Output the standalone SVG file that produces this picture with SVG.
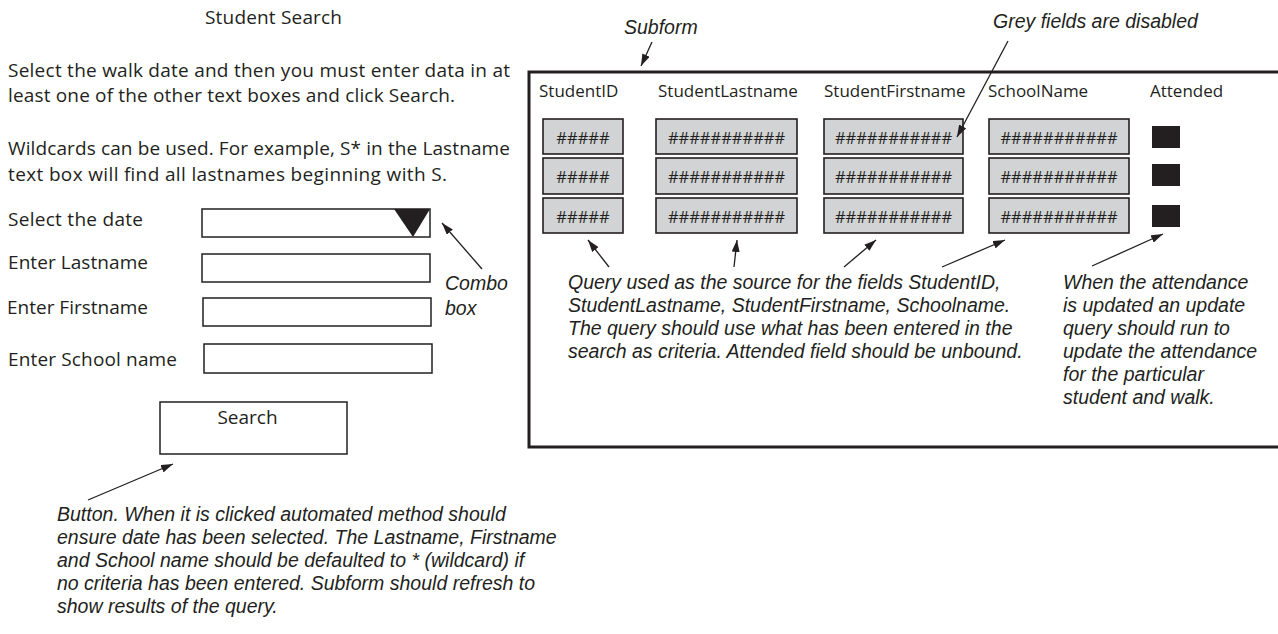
<svg xmlns="http://www.w3.org/2000/svg" width="1278" height="634" viewBox="0 0 1278 634">
<defs>
<style>
text{font-family:"Open Sans","Noto Sans","Liberation Sans",sans-serif;fill:#231f20;}
.b{font-size:19px;}
.it{font-family:"Liberation Sans",Arial,sans-serif;font-size:19.5px;font-style:italic;}
.hd{font-size:17px;}
.hash{font-size:16.5px;text-anchor:middle;}
.inp{fill:#fff;stroke:#231f20;stroke-width:1.5;}
.fld{fill:#d1d3d4;stroke:#231f20;stroke-width:1.6;}
.chk{fill:#231f20;}
.con{stroke:#231f20;stroke-width:1.3;fill:none;marker-end:url(#ah);}
</style>
<marker id="ah" viewBox="0 0 12 8" refX="12" refY="4" markerWidth="12" markerHeight="8" markerUnits="userSpaceOnUse" orient="auto">
<path d="M0,0 L12,4 L0,8 Z" fill="#231f20"/>
</marker>
</defs>
<rect width="1278" height="634" fill="#fff"/>

<g id="title"><text class="b" x="205" y="24" textLength="137">Student Search</text></g>
<g id="instructions">
<text class="b" x="8" y="77" textLength="502">Select the walk date and then you must enter data in at</text>
<text class="b" x="8" y="102" textLength="447">least one of the other text boxes and click Search.</text>
<text class="b" x="8" y="155" textLength="502">Wildcards can be used. For example, S* in the Lastname</text>
<text class="b" x="8" y="181" textLength="439">text box will find all lastnames beginning with S.</text>
</g>

<g id="date">
<text class="b" x="8" y="226" textLength="135">Select the date</text>
<rect class="inp" x="202" y="209" width="228" height="28"/>
<path d="M394,209 L430,209 L413,237 Z" fill="#231f20"/>
</g>
<g id="lastname">
<text class="b" x="8" y="269" textLength="140">Enter Lastname</text>
<rect class="inp" x="202" y="254" width="228" height="28"/>
</g>
<g id="firstname">
<text class="b" x="7" y="314" textLength="141">Enter Firstname</text>
<rect class="inp" x="203" y="298" width="228" height="28"/>
</g>
<g id="schoolname">
<text class="b" x="8" y="366" textLength="169">Enter School name</text>
<rect class="inp" x="204" y="344" width="228" height="29"/>
</g>
<g id="combo-note">
<text class="it" x="445" y="290">Combo</text>
<text class="it" x="445" y="315">box</text>
</g>
<g id="search-button">
<rect class="inp" x="160" y="402" width="187" height="52"/>
<text class="b" x="247.5" y="424" text-anchor="middle">Search</text>
</g>
<g id="button-note">
<text class="it" x="57" y="521">Button. When it is clicked automated method should</text>
<text class="it" x="57" y="544">ensure date has been selected. The Lastname, Firstname</text>
<text class="it" x="57" y="567">and School name should be defaulted to * (wildcard) if</text>
<text class="it" x="57" y="590">no criteria has been entered. Subform should refresh to</text>
<text class="it" x="57" y="613">show results of the query.</text>
</g>

<g id="subform-note"><text class="it" x="624" y="34">Subform</text></g>
<g id="grey-note"><text class="it" x="993" y="28">Grey fields are disabled</text></g>

<g id="subform">
<rect x="529" y="72" width="770" height="375" fill="none" stroke="#231f20" stroke-width="3"/>
<text class="hd" x="539" y="97">StudentID</text>
<text class="hd" x="658" y="97">StudentLastname</text>
<text class="hd" x="824" y="97">StudentFirstname</text>
<text class="hd" x="988" y="97">SchoolName</text>
<text class="hd" x="1150" y="97">Attended</text>
</g>
<g id="col-studentid">
<rect class="fld" x="543" y="119" width="80" height="35"/>
<rect class="fld" x="543" y="158" width="80" height="36"/>
<rect class="fld" x="543" y="198" width="80" height="35"/>
<text class="hash" x="583" y="144">#####</text>
<text class="hash" x="583" y="183">#####</text>
<text class="hash" x="583" y="223">#####</text>
</g>
<g id="col-lastname">
<rect class="fld" x="656" y="119" width="141" height="35"/>
<rect class="fld" x="656" y="158" width="141" height="36"/>
<rect class="fld" x="656" y="198" width="141" height="35"/>
<text class="hash" x="726.5" y="144">###########</text>
<text class="hash" x="726.5" y="183">###########</text>
<text class="hash" x="726.5" y="223">###########</text>
</g>
<g id="col-firstname">
<rect class="fld" x="824" y="119" width="139" height="35"/>
<rect class="fld" x="824" y="158" width="139" height="36"/>
<rect class="fld" x="824" y="198" width="139" height="35"/>
<text class="hash" x="893.5" y="144">###########</text>
<text class="hash" x="893.5" y="183">###########</text>
<text class="hash" x="893.5" y="223">###########</text>
</g>
<g id="col-schoolname">
<rect class="fld" x="989" y="119" width="140" height="35"/>
<rect class="fld" x="989" y="158" width="140" height="36"/>
<rect class="fld" x="989" y="198" width="140" height="35"/>
<text class="hash" x="1059" y="144">###########</text>
<text class="hash" x="1059" y="183">###########</text>
<text class="hash" x="1059" y="223">###########</text>
</g>
<g id="col-attended">
<rect class="chk" x="1152" y="126" width="28" height="22"/>
<rect class="chk" x="1152" y="164" width="28" height="22"/>
<rect class="chk" x="1152" y="205" width="28" height="22"/>
</g>
<g id="query-note">
<text class="it" x="568" y="289">Query used as the source for the fields StudentID,</text>
<text class="it" x="568" y="312">StudentLastname, StudentFirstname, Schoolname.</text>
<text class="it" x="568" y="335">The query should use what has been entered in the</text>
<text class="it" x="568" y="358">search as criteria. Attended field should be unbound.</text>
</g>
<g id="attend-note">
<text class="it" x="1063" y="289">When the attendance</text>
<text class="it" x="1063" y="312">is updated an update</text>
<text class="it" x="1063" y="335">query should run to</text>
<text class="it" x="1063" y="358">update the attendance</text>
<text class="it" x="1063" y="381">for the particular</text>
<text class="it" x="1063" y="404">student and walk.</text>
</g>

<g id="connectors">
<line class="con" x1="482" y1="269" x2="442" y2="223"/>
<line class="con" x1="88" y1="500" x2="173" y2="464"/>
<line class="con" x1="652" y1="42" x2="641" y2="66"/>
<line class="con" x1="1008" y1="41" x2="957" y2="137"/>
<line class="con" x1="609" y1="267" x2="588" y2="240"/>
<line class="con" x1="734" y1="267" x2="737" y2="240"/>
<line class="con" x1="844" y1="267" x2="876" y2="240"/>
<line class="con" x1="942" y1="267" x2="1005" y2="240"/>
<line class="con" x1="1092" y1="266" x2="1163" y2="234"/>
</g>
</svg>
